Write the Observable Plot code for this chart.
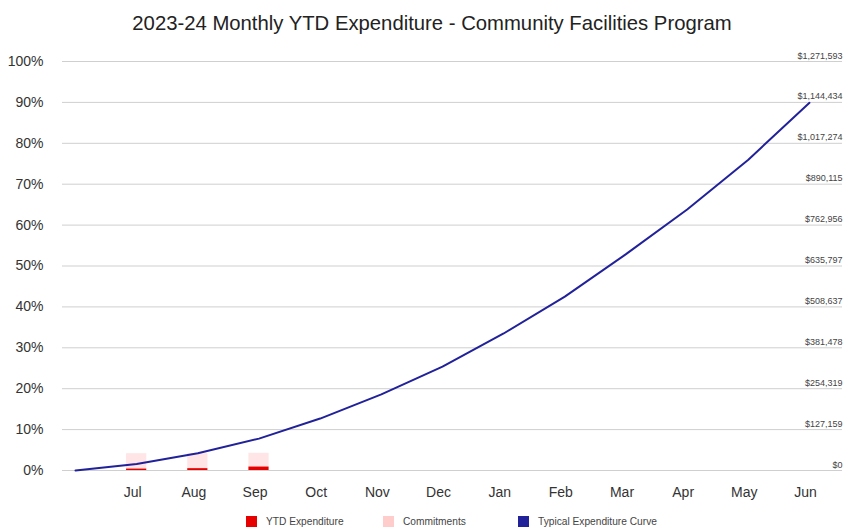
<!DOCTYPE html>
<html>
<head>
<meta charset="utf-8">
<script src="https://cdn.jsdelivr.net/npm/d3@7"></script>
<script src="https://cdn.jsdelivr.net/npm/@observablehq/plot@0.6"></script>
<style>
  html, body { margin: 0; padding: 0; background: #fff; }
  body { width: 844px; height: 528px; position: relative; overflow: hidden; font-family: Arial, "Liberation Sans", sans-serif; }
  #title { position: absolute; left: 20px; top: 0; width: 824px; height: 40px; line-height: 46px; text-align: center; font-size: 20.3px; color: #222; }
  #chart { position: absolute; left: 0; top: 40px; }
  #legend { position: absolute; left: 0; top: 513px; width: 844px; height: 16px; font-size: 10.2px; color: #444; }
  .item { position: absolute; top: 0; display: flex; align-items: center; height: 16px; }
  .sw { width: 11px; height: 11px; margin-right: 9px; }
</style>
</head>
<body>
<div id="title">2023-24 Monthly YTD Expenditure - Community Facilities Program</div>
<div id="chart"></div>
<div id="legend"></div>
<script>
// ---- data ----
const months = ["Jul", "Aug", "Sep", "Oct", "Nov", "Dec", "Jan", "Feb", "Mar", "Apr", "May", "Jun"];
// typical expenditure curve (% of budget), index 0 = start of year, 1..12 = months
const curvePct = [0, 1.6, 4.2, 7.8, 12.7, 18.6, 25.4, 33.5, 42.5, 52.9, 63.8, 76.0, 89.9];
// YTD expenditure (% of budget) for Jul, Aug, Sep
const ytdPct = [0.35, 0.45, 0.85];
// commitments (% of budget), stacked on top of YTD expenditure
const commitPct = [3.75, 3.65, 3.35];
// percent gridlines and matching budget dollar labels
const gridPct = [0, 10, 20, 30, 40, 50, 60, 70, 80, 90, 100];
const budgetLabels = ["$0", "$127,159", "$254,319", "$381,478", "$508,637", "$635,797", "$762,956", "$890,115", "$1,017,274", "$1,144,434", "$1,271,593"];
const seriesNames = ["YTD Expenditure", "Commitments", "Typical Expenditure Curve"];
const seriesColors = ["#e60000", "#ffcccc", "#21219a"];

// ---- derived tables ----
const curve = curvePct.map((v, i) => ({i, v}));
const bars = ytdPct.map((v, k) => ({i: k + 1, ytd: v, top: v + commitPct[k]}));
const halfW = 0.165;

const chart = Plot.plot({
  width: 844,
  height: 468,
  marginTop: 21,
  marginBottom: 38,
  marginLeft: 62,
  marginRight: 2,
  style: {fontFamily: "Arial, 'Liberation Sans', sans-serif", fontSize: "14px", color: "#444", background: "#fff"},
  x: {domain: [0, 12], range: [75, 809], label: null},
  y: {domain: [0, 100], label: null},
  marks: [
    Plot.ruleY(gridPct, {stroke: "#cfcfcf", strokeWidth: 1}),
    Plot.rectY(bars, {x1: d => d.i - halfW, x2: d => d.i + halfW, y1: d => d.ytd, y2: d => d.top, fill: seriesColors[1], fillOpacity: 0.5}),
    Plot.rectY(bars, {x1: d => d.i - halfW, x2: d => d.i + halfW, y1: 0, y2: d => d.ytd, fill: seriesColors[0]}),
    Plot.line(curve, {x: "i", y: "v", stroke: seriesColors[2], strokeWidth: 2}),
    Plot.text(gridPct, {y: d => d, text: (d, k) => budgetLabels[k], frameAnchor: "right", textAnchor: "end", lineAnchor: "bottom", dy: -3, fontSize: 9, fill: "#444"}),
    Plot.axisY({ticks: gridPct, tickFormat: d => d + "%", tickSize: 0, tickPadding: 19, fill: "#333", label: null}),
    Plot.axisX({ticks: d3.range(1, 13), tickFormat: i => months[i - 1], tickSize: 0, tickPadding: 17, dx: -4, fill: "#333", label: null})
  ]
});
document.getElementById("chart").appendChild(chart);

// ---- legend ----
const legendLeft = [246, 383, 518];
const legend = document.getElementById("legend");
seriesNames.forEach((name, k) => {
  const item = document.createElement("div");
  item.className = "item";
  item.style.left = legendLeft[k] + "px";
  const sw = document.createElement("div");
  sw.className = "sw";
  sw.style.background = seriesColors[k];
  const t = document.createElement("span");
  t.textContent = name;
  item.appendChild(sw);
  item.appendChild(t);
  legend.appendChild(item);
});
</script>
</body>
</html>
